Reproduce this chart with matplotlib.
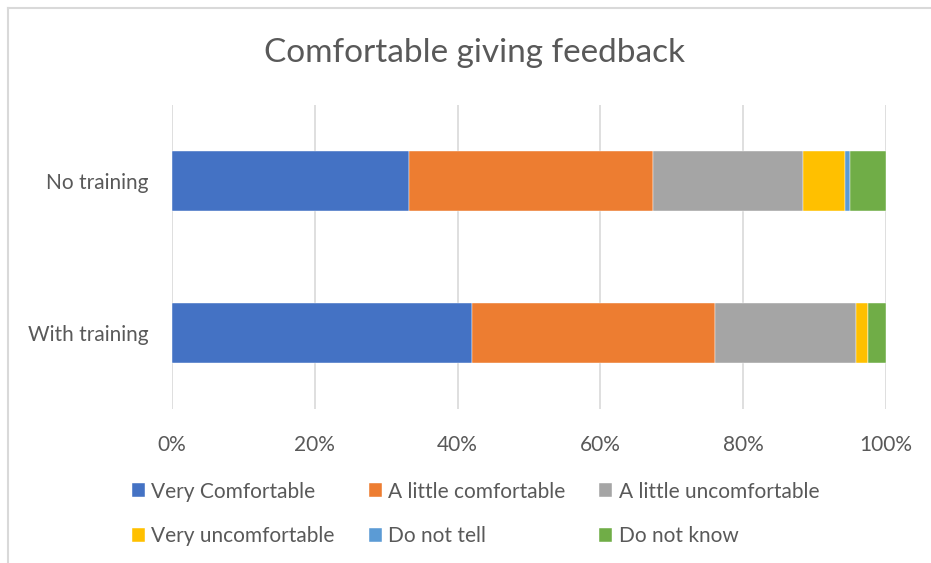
import numpy as np
import matplotlib.pyplot as plt
from matplotlib.lines import Line2D
from matplotlib.ticker import PercentFormatter

plt.rcParams['font.family'] = ['Lato', 'DejaVu Sans']

groups = ['No training', 'With training']
answers = ['Very Comfortable', 'A little comfortable', 'A little uncomfortable',
           'Very uncomfortable', 'Do not tell', 'Do not know']
# share of answers (%) per group, same order as answers
no_training = [33.2, 34.2, 21.0, 5.8, 0.7, 5.1]
with_training = [42.0, 34.0, 19.8, 1.7, 0.0, 2.5]
colors = ['#4472C4', '#ED7D31', '#A5A5A5', '#FFC000', '#5B9BD5', '#70AD47']
txt = '#595959'

data = np.array([no_training, with_training])
ypos = np.arange(len(groups))

fig = plt.figure(figsize=(9.31, 5.63), dpi=100)
ax = fig.add_axes([172/931, 1-409/563, 714/931, 304/563])

left = np.zeros(len(groups))
handles = []
for j, name in enumerate(answers):
    b = ax.barh(ypos, data[:, j], left=left, height=0.4, color=colors[j],
                edgecolor='white', linewidth=0.3, label=name, zorder=3)
    handles.append(b)
    left += data[:, j]

ax.set_xlim(0, 100)
ax.set_ylim(1.5, -0.5)
ax.set_xticks(np.arange(0, 101, 20))
ax.xaxis.set_major_formatter(PercentFormatter(decimals=0))
ax.set_yticks(ypos)
ax.set_yticklabels(groups)
ax.grid(axis='x', color='#D9D9D9', lw=1.2, zorder=0)
for s in ax.spines.values():
    s.set_visible(False)
ax.tick_params(length=0, labelsize=15, labelcolor=txt)
ax.tick_params(axis='x', pad=19)
ax.tick_params(axis='y', pad=17)

fig.text(474/931, 1-53/563, 'Comfortable giving feedback', ha='center', va='center',
         fontsize=24, color=txt)

# legend goes row by row: reorder for column filling
order = [0, 3, 1, 4, 2, 5]
leg = fig.legend([handles[i] for i in order], [answers[i] for i in order],
                 ncol=3, loc='center left', bbox_to_anchor=(113/931, 1-514/563),
                 frameon=False, fontsize=15, handlelength=0.62, handleheight=0.62,
                 handletextpad=0.3, columnspacing=1.65, labelspacing=1.2)
for t in leg.get_texts():
    t.set_color(txt)

# thin frame along the top and left
fig.add_artist(Line2D([7.5/931, 7.5/931], [0, 1-8/563], color='#D9D9D9', lw=1.5))
fig.add_artist(Line2D([7.5/931, 1], [1-8/563, 1-8/563], color='#D9D9D9', lw=1.5))

fig.savefig('out.png', dpi=100)
